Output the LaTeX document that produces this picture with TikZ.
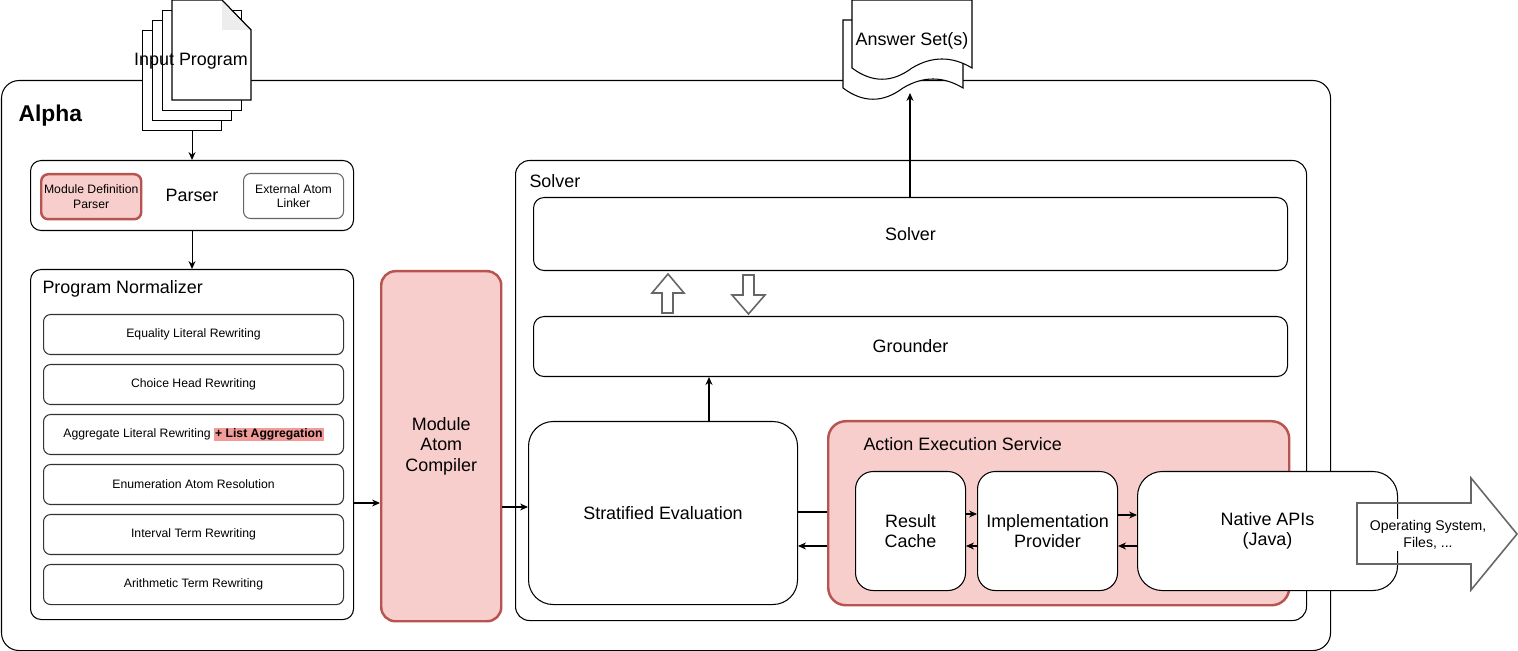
\documentclass[tikz,border=0pt]{standalone}
\usepackage{fontspec}
\setmainfont{Liberation Sans}
\usetikzlibrary{positioning,arrows.meta}

\newdimen\unitpx \unitpx=0.02cm
\newcommand{\fntbig}{\fontsize{10.2}{11.6}\selectfont}
\newcommand{\fntmid}{\fontsize{8}{9.4}\selectfont}
\newcommand{\fntsmall}{\fontsize{6.95}{8.3}\selectfont}
\newcommand{\fntalpha}{\fontsize{13}{15}\selectfont\bfseries}
\definecolor{redfill}{HTML}{F8CECC}
\definecolor{redline}{HTML}{B85450}
\definecolor{hlcol}{HTML}{F19C99}

\begin{document}
\begin{tikzpicture}[x=0.02cm, y=-0.02cm, line width=0.6pt, >={Stealth[length=4.5pt,width=4pt]},
    box/.style = {draw, fill=white, rounded corners=6pt, anchor=north west, inner sep=0pt, align=center, font=\fntbig},
    sz/.style 2 args = {minimum width=#1\unitpx, minimum height=#2\unitpx},
    hi/.style = {fill=redfill, draw=redline, line width=1.4pt},
    rw/.style = {box, draw=black!80, rounded corners=4pt, font=\fntsmall, sz={300}{40}},
    sheet/.style = {draw, fill=white, anchor=north west, sz={79}{100}},
    hollow/.style = {draw=black!60, line width=0.9pt, fill=white},
    lbl/.style = {anchor=west, inner sep=0pt, font=\fntbig}]
    \useasboundingbox (0,0) rectangle (1518,651);

    % Riquadro principale
    \node[box, sz={1329}{570}, rounded corners=10pt] (alpha) at (1,80) {};
    \node[lbl, font=\fntalpha] (alphalbl) at (18,116) {Alpha};

    % Programma in ingresso
    \node[sheet] (in0) at (142,30) {};
    \node[sheet] (in1) at (152,20) {};
    \node[sheet] (in2) at (162,10) {};
    \draw[fill=white] (172,0) -- (222,0) -- (251,30) -- (251,100) -- (172,100) -- cycle;
    \fill[black!7] (222,0.6) -- (250.4,30) -- (222,30) -- cycle;
    \draw (222,0) -- (251,30);
    \node[font=\fntbig] (input) at (191,61) {Input Program};

    % Parser
    \node[box, sz={323}{70}] (parser) at (30,160) {Parser};
    \node[box, hi, sz={100}{45}, rounded corners=4pt, font=\fntsmall] (moddef) at (40,173) {Module Definition\\Parser};
    \node[box, draw=black!60, sz={100}{45}, rounded corners=4pt, font=\fntsmall] (extlink) at (243,173) {External Atom\\Linker};
    \draw[->] (in0.south -| parser.north) -- (parser.north);

    % Program Normalizer
    \node[box, sz={323}{350}] (norm) at (30,269) {};
    \node[lbl] (normlbl) at (42,289) {Program Normalizer};
    \draw[->] (parser) -- (norm);
    \node[rw] (rw0) at (43,314) {Equality Literal Rewriting};
    \node[rw] (rw1) at (43,364) {Choice Head Rewriting};
    \node[rw] (rw2) at (43,414) {Aggregate Literal Rewriting {\setlength{\fboxsep}{0.6pt}\colorbox{hlcol}{\bfseries + List Aggregation}}};
    \node[rw] (rw3) at (43,464) {Enumeration Atom Resolution};
    \node[rw] (rw4) at (43,514) {Interval Term Rewriting};
    \node[rw] (rw5) at (43,564) {Arithmetic Term Rewriting};

    % Module Atom Compiler
    \node[box, hi, sz={120}{350}, rounded corners=8pt] (mac) at (380,270) {Module\\Atom\\Compiler};
    \draw[->] (norm.east |- 0,503) -- (mac.west |- 0,503);

    % Solver
    \node[box, sz={791}{460}, rounded corners=8pt] (solverbox) at (515,160) {};
    \node[lbl] (solverlbl) at (529,181) {Solver};
    \node[box, sz={754}{73}] (solver) at (533,197) {Solver};
    \node[box, sz={754}{60}] (grounder) at (533,316) {Grounder};
    \draw[hollow] (662,313) -- (662,293) -- (652,293) -- (668,274) -- (684,293) -- (673,293) -- (673,313) -- cycle;
    \draw[hollow] (743,275) -- (754,275) -- (754,295) -- (765,295) -- (748.5,314) -- (732,295) -- (743,295) -- cycle;
    \node[box, sz={269}{183}, rounded corners=14pt] (strat) at (528,421) {Stratified Evaluation};
    \draw[->] (strat.north -| 709,0) -- (grounder.south -| 709,0);
    \draw[->] (mac.east |- 0,507) -- (strat.west |- 0,507);

    % Action Execution Service
    \node[box, hi, sz={461}{184}, rounded corners=10pt] (aes) at (827,420) {};
    \node[lbl] (aeslbl) at (863,444) {Action Execution Service};
    \node[box, sz={110}{119}, rounded corners=10pt] (cache) at (855,471) {Result\\Cache};
    \node[box, sz={140}{119}, rounded corners=10pt] (impl) at (977,471) {Implementation\\Provider};
    \node[box, sz={260}{119}, rounded corners=14pt] (native) at (1137,471) {Native APIs\\(Java)};
    \draw (strat.east |- 0,512) -- (aes.west |- 0,512);
    \draw[->] (aes.west |- 0,546) -- (strat.east |- 0,546);
    \draw[->] (cache.east |- 0,514) -- (impl.west |- 0,514);
    \draw[->] (impl.west |- 0,546) -- (cache.east |- 0,546);
    \draw[->] (impl.east |- 0,515) -- (native.west |- 0,515);
    \draw[->] (native.west |- 0,546) -- (impl.east |- 0,546);

    % Sistema operativo
    \draw[draw=black!60, line width=0.9pt] (1357,503) -- (1471,503) -- (1471,478) -- (1517,534) -- (1471,590) -- (1471,564) -- (1357,564) -- cycle;
    \node[font=\fntmid, fill=white, inner sep=1pt, align=center] (os) at (1428,535) {Operating System,\\Files, ...};

    % Answer set
    \draw[fill=white] (843,20) -- ++(120,0) -- ++(0,68) .. controls +(-20,-12) and +(20,-12) .. ++(-60,0) .. controls +(-20,15) and +(20,15) .. ++(-60,0) -- cycle;
    \draw[fill=white] (852,0) -- ++(120,0) -- ++(0,68) .. controls +(-20,-12) and +(20,-12) .. ++(-60,0) .. controls +(-20,15) and +(20,15) .. ++(-60,0) -- cycle;
    \node[font=\fntbig] (ans) at (912,41) {Answer Set(s)};
    \coordinate (anstip) at (910,93);
    \draw[->] (solver.north -| anstip) -- (anstip);

\end{tikzpicture}
\end{document}
